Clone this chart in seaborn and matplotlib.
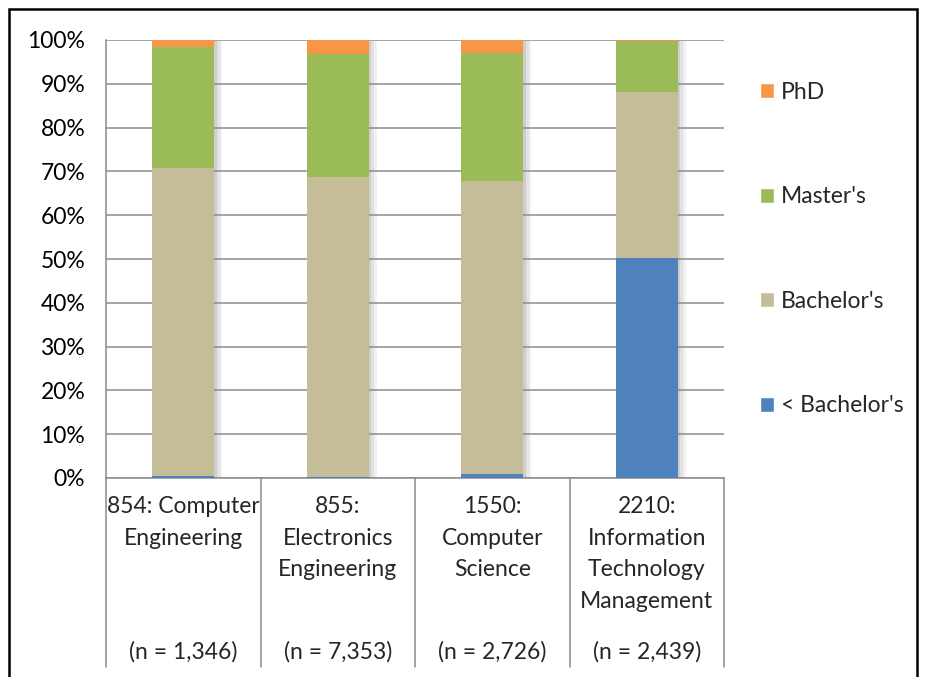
import seaborn as sns
import matplotlib.pyplot as plt
import matplotlib.patheffects as pe
import matplotlib.transforms as mtransforms
from matplotlib.patches import Rectangle, Patch
import numpy as np
import pandas as pd

# ---- Data (percent of graduates by highest degree) ----
categories = ["854: Computer\nEngineering", "855:\nElectronics\nEngineering",
              "1550:\nComputer\nScience", "2210:\nInformation\nTechnology\nManagement"]
counts = ["(n = 1,346)", "(n = 7,353)", "(n = 2,726)", "(n = 2,439)"]
levels = ["< Bachelor's", "Bachelor's", "Master's", "PhD"]
below_bachelor = [0.4, 0.3, 0.8, 50.2]
bachelor = [70.4, 68.4, 67.0, 38.0]
master = [27.5, 28.1, 29.3, 11.5]
phd = [1.7, 3.2, 2.9, 0.3]
colors = ["#4F81BD", "#C4BD97", "#9BBB59", "#F79646"]

sns.set_style("white")
plt.rcParams["font.family"] = ["Lato", "DejaVu Sans"]
FS = 16.5
GRID = "#8C8C8C"

df = pd.DataFrame({"cat": categories, "< Bachelor's": below_bachelor,
                   "Bachelor's": bachelor, "Master's": master, "PhD": phd})
cum = df[levels].cumsum(axis=1)

W, H = 925, 677
fig = plt.figure(figsize=(W / 100, H / 100), dpi=100)
ax = fig.add_axes([106 / W, 1 - 478 / H, (724 - 106) / W, (478 - 40) / H])

# stacked bars: draw cumulative totals from the top layer down
for i in range(len(levels) - 1, -1, -1):
    lvl = levels[i]
    sns.barplot(x=df["cat"], y=cum[lvl], color=colors[i], saturation=1,
                width=0.4, ax=ax, zorder=3, linewidth=0)
    if i == len(levels) - 1:
        # soft shadow on the right side of each full-height bar
        for p in ax.patches:
            p.set_path_effects([pe.SimplePatchShadow(offset=(6, -1), shadow_rgbFace="#909090", alpha=0.12),
                                pe.SimplePatchShadow(offset=(4, -1), shadow_rgbFace="#909090", alpha=0.15),
                                pe.SimplePatchShadow(offset=(2, -1), shadow_rgbFace="#808080", alpha=0.2),
                                pe.Normal()])

ax.set_xlim(-0.5, 3.5)
ax.set_ylim(0, 100)
ax.set_yticks(np.arange(0, 101, 10))
ax.yaxis.set_major_formatter(lambda v, p: f"{v:.0f}%")
ax.yaxis.grid(True, color=GRID, linewidth=1.1, zorder=0)
ax.set_axisbelow(True)
ax.set_xlabel("")
ax.set_ylabel("")
for s in ["top", "right"]:
    ax.spines[s].set_visible(False)
for s in ["left", "bottom"]:
    ax.spines[s].set_color(GRID)
    ax.spines[s].set_linewidth(1.1)
ax.tick_params(axis="y", length=6, width=1.1, color=GRID, pad=9, labelsize=FS, labelcolor="black")

ax.set_xticks(range(len(categories)))
ax.set_xticklabels(categories, fontsize=FS, linespacing=1.62, va="top")
ax.tick_params(axis="x", length=0, pad=13)

trans = mtransforms.blended_transform_factory(ax.transData, ax.transAxes)
for xb in np.arange(-0.5, len(categories), 1.0):
    ax.plot([xb, xb], [0, -(667 - 478) / 438], transform=trans, color=GRID,
            linewidth=1.1, clip_on=False)
for i, n in enumerate(counts):
    ax.text(i, -(652 - 478) / 438, n, transform=trans, ha="center", va="center", fontsize=FS)

handles = [Patch(facecolor=colors[i], label=levels[i]) for i in range(len(levels) - 1, -1, -1)]
fig.legend(handles=handles, loc="center left", bbox_to_anchor=(760 / W, 1 - 249 / H),
           frameon=False, fontsize=FS, handlelength=0.62, handleheight=0.62,
           handletextpad=0.3, labelspacing=3.65, borderpad=0, borderaxespad=0)

fig.add_artist(Rectangle((9 / W, -0.02), (917 - 9) / W, 1 - 9 / H + 0.02,
                         transform=fig.transFigure, fill=False, edgecolor="black", linewidth=1.8))

fig.savefig("out.png", dpi=100)
plt.close(fig)
